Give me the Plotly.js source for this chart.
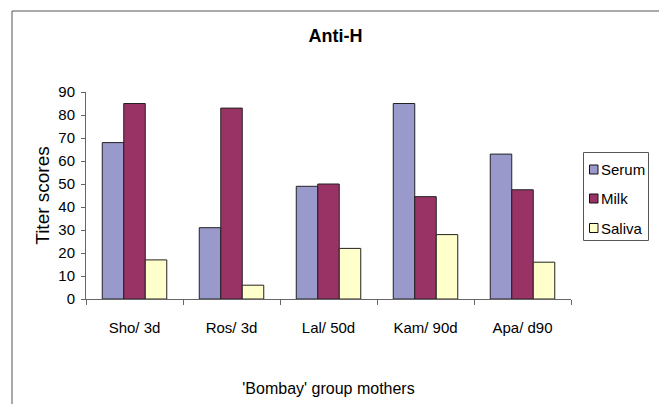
<!DOCTYPE html>
<html>
<head>
<meta charset="utf-8">
<script src="https://cdn.plot.ly/plotly-3.0.1.min.js"></script>
<style>
  html, body { margin: 0; padding: 0; background: #fff; }
  #chart { width: 659px; height: 404px; }
</style>
</head>
<body>
<div id="chart"></div>
<script>
const categories = ['Sho/ 3d', 'Ros/ 3d', 'Lal/ 50d', 'Kam/ 90d', 'Apa/ d90'];
const seriesNames = ['Serum', 'Milk', 'Saliva'];
const serum = [68, 31, 49, 85, 63];
const milk = [85, 83, 50, 44.5, 47.5];
const saliva = [17, 6, 22, 28, 16];
const yTickVals = [0, 10, 20, 30, 40, 50, 60, 70, 80, 90];

const colors = ['#9999cc', '#993366', '#ffffcc'];
const values = [serum, milk, saliva];
const FONT = 'Liberation Sans, Arial, Helvetica, sans-serif';

const W = 659, H = 404;
const L = 86, R = 88, T = 92, B = 105;
const pw = W - L - R, ph = H - T - B;
const px = x => (x - L) / pw;          // pixel -> paper x
const py = y => (H - B - y) / ph;      // pixel -> paper y

const traces = seriesNames.map((name, i) => ({
  type: 'bar',
  name: name,
  x: categories,
  y: values[i],
  marker: { color: colors[i], line: { color: '#222', width: 1 } },
  showlegend: false,
  hoverinfo: 'x+y+name'
}));

const shapes = [
  { type: 'rect', xref: 'paper', yref: 'paper',
    x0: px(12), x1: px(700), y0: py(440), y1: py(11),
    line: { color: '#555', width: 1 }, fillcolor: 'rgba(0,0,0,0)', layer: 'below' },
  { type: 'rect', xref: 'paper', yref: 'paper',
    x0: px(583.5), x1: px(648.5), y0: py(240.5), y1: py(152.5),
    line: { color: '#555', width: 1 }, fillcolor: '#fff' }
];
const annotations = [];
const legendY = [169.5, 198.5, 228];
seriesNames.forEach((name, i) => {
  const cy = legendY[i];
  shapes.push({ type: 'rect', xref: 'paper', yref: 'paper',
    x0: px(589.5), x1: px(598), y0: py(cy + 4.5), y1: py(cy - 4.5),
    line: { color: '#111', width: 1 }, fillcolor: colors[i] });
  annotations.push({ xref: 'paper', yref: 'paper', x: px(599), y: py(cy),
    xanchor: 'left', yanchor: 'middle', showarrow: false, text: name,
    font: { family: FONT, size: 15, color: '#000' } });
});

const layout = {
  width: W, height: H,
  margin: { l: L, r: R, t: T, b: B, pad: 0 },
  paper_bgcolor: '#fff', plot_bgcolor: '#fff',
  font: { family: FONT, size: 15, color: '#000' },
  barmode: 'group', bargap: 0.335, bargroupgap: 0,
  title: { text: '<b>Anti-H</b>', x: 0.509, xanchor: 'center', y: 1 - 36 / H, yanchor: 'middle',
    font: { family: FONT, size: 18, color: '#000' } },
  xaxis: {
    type: 'category', range: [-0.5, 4.5],
    showline: true, linecolor: '#666', linewidth: 1,
    ticks: 'outside', tickson: 'boundaries', ticklen: 5, tickcolor: '#666',
    ticklabelstandoff: 15,
    showgrid: false, zeroline: false,
    tickfont: { family: FONT, size: 15, color: '#000' },
    title: { text: "'Bombay' group mothers", standoff: 47, font: { family: FONT, size: 16, color: '#000' } }
  },
  yaxis: {
    range: [0, 90], tickvals: yTickVals, ticktext: yTickVals.map(String),
    showline: true, linecolor: '#666', linewidth: 1,
    ticks: 'outside', ticklen: 4, tickcolor: '#666',
    ticklabelstandoff: 3,
    showgrid: false, zeroline: false,
    tickfont: { family: FONT, size: 15, color: '#000' },
    title: { text: 'Titer scores', standoff: 3, font: { family: FONT, size: 19, color: '#000' } }
  },
  shapes: shapes,
  annotations: annotations
};

Plotly.newPlot('chart', traces, layout, { displayModeBar: false, staticPlot: true });
</script>
</body>
</html>
